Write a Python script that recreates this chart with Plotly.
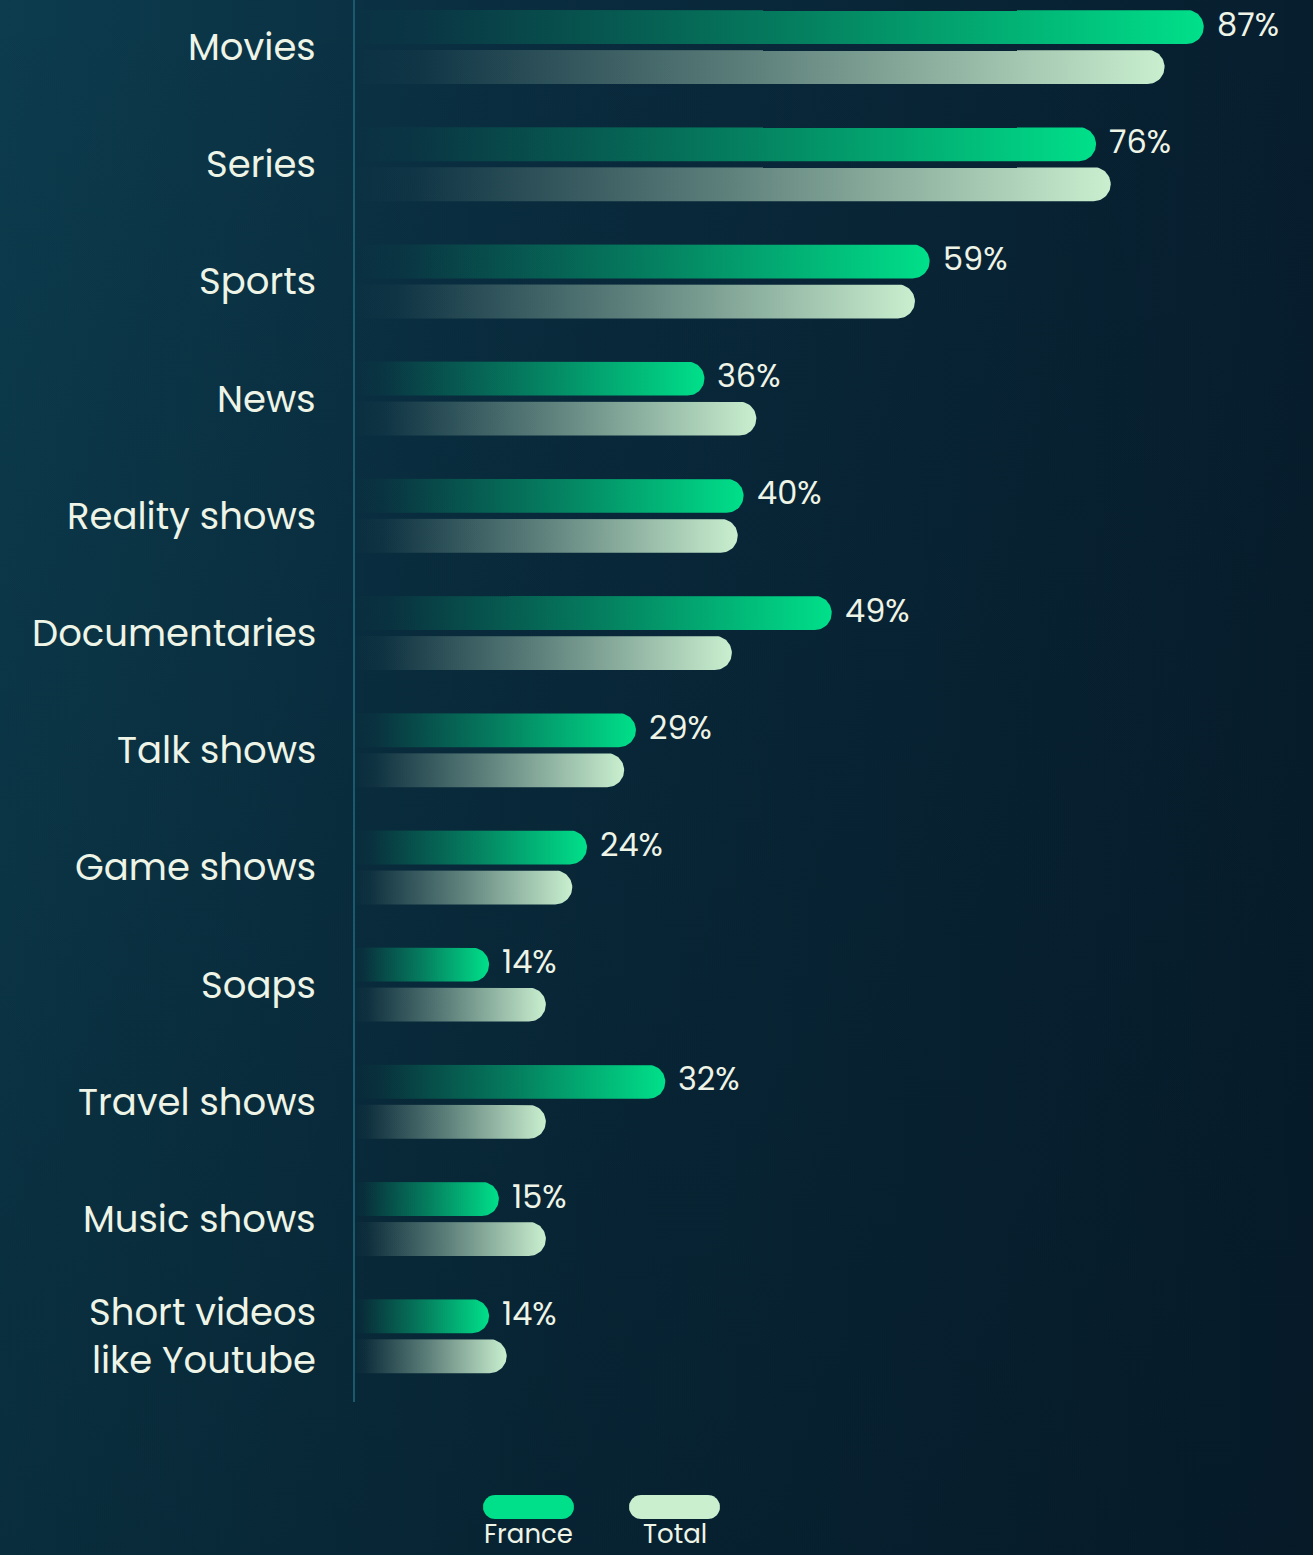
import numpy as np
import plotly.graph_objects as go

# ---------------- data ----------------
categories = ["Movies", "Series", "Sports", "News", "Reality shows", "Documentaries",
              "Talk shows", "Game shows", "Soaps", "Travel shows", "Music shows",
              "Short videos<br>like Youtube"]
france = [87, 76, 59, 36, 40, 49, 29, 24, 14, 32, 15, 14]
total = [83, 77.5, 57.5, 41.3, 39.4, 38.8, 27.8, 22.5, 19.8, 19.8, 19.8, 15.8]
series_names = ["France", "Total"]

# ---------------- style / geometry ----------------
W, H = 1313, 1555
X0, K = 352.0, 9.79      # pixel of 0 %, pixels per %
Y0, P = 47.0, 117.2      # pixel of first group centre, pixels per group
BAR_HALF = 17.0          # half bar height in px
BAR_OFF = 20.0           # offset of each bar from group centre in px
FONT = "Poppins, Inter, Lato, sans-serif"
TXT = "#eef4e6"
C_FR = (0, 224, 138)
C_TO = (201, 239, 207)

def px_x(px):
    return (px - X0) / K

def px_y(py):
    return (py - Y0) / P

xr = [px_x(0), px_x(W)]
yr = [px_y(H), px_y(0)]   # reversed axis

def rounded_bar(v, yc):
    rx, ry = BAR_HALF / K, BAR_HALF / P
    th = np.linspace(-np.pi / 2, np.pi / 2, 31)
    xs = [0.0] + list((v - rx) + rx * np.cos(th)) + [0.0]
    ys = [yc - ry] + list(yc + ry * np.sin(th)) + [yc + ry]
    return xs, ys

def pill(cx_px, cy_px, w_px, h_px):
    r = h_px / 2
    th1 = np.linspace(np.pi / 2, 3 * np.pi / 2, 21)
    th2 = np.linspace(-np.pi / 2, np.pi / 2, 21)
    lx, rx_ = cx_px - w_px / 2 + r, cx_px + w_px / 2 - r
    xs = list(lx + r * np.cos(th1)) + list(rx_ + r * np.cos(th2))
    ys = list(cy_px - r * np.sin(th1)) + list(cy_px - r * np.sin(th2))
    return [px_x(x) for x in xs], [px_y(y) for y in ys]

def rgba(c, a):
    return f"rgba({c[0]},{c[1]},{c[2]},{a})"

fig = go.Figure()

# background gradient (horizontal + vertical darkening)
bx = [xr[0], xr[1], xr[1], xr[0]]
by = [yr[1], yr[1], yr[0], yr[0]]
fig.add_trace(go.Scatter(
    x=bx, y=by, fill="toself", mode="lines", line=dict(width=0),
    fillgradient=dict(type="horizontal", start=xr[0], stop=xr[1],
                      colorscale=[[0, "#0c3c4e"], [0.45, "#092b3d"], [1, "#071e2e"]]),
    hoverinfo="skip", showlegend=False))
fig.add_trace(go.Scatter(
    x=bx, y=by, fill="toself", mode="lines", line=dict(width=0),
    fillgradient=dict(type="vertical", start=yr[1], stop=yr[0],
                      colorscale=[[0, "rgba(4,18,28,0)"], [1, "rgba(4,18,28,0.35)"]]),
    hoverinfo="skip", showlegend=False))

# bars
for i, cat in enumerate(categories):
    for vals, col, off, name in ((france, C_FR, -BAR_OFF, series_names[0]),
                                 (total, C_TO, BAR_OFF, series_names[1])):
        v = vals[i]
        yc = i + off / P
        xs, ys = rounded_bar(v, yc)
        fig.add_trace(go.Scatter(
            x=xs, y=ys, fill="toself", mode="lines", line=dict(width=0),
            fillgradient=dict(type="horizontal", start=0, stop=v,
                              colorscale=[[0, rgba(col, 0)], [0.08, rgba(col, 0.03)],
                                          [0.5, rgba(col, 0.45)], [1, rgba(col, 1)]]),
            hoverinfo="skip", showlegend=False, name=name))

annotations = []
# category labels
for i, cat in enumerate(categories):
    annotations.append(dict(
        x=px_x(318), y=i, xref="x", yref="y", text=cat, showarrow=False,
        xanchor="right", yanchor="middle", align="right",
        font=dict(family=FONT, size=37, color=TXT)))
# value labels
for i, v in enumerate(france):
    annotations.append(dict(
        x=v, y=i - BAR_OFF / P, xref="x", yref="y", text=f"{v}%", showarrow=False,
        xanchor="left", yanchor="middle", xshift=11, yshift=3,
        font=dict(family=FONT, size=32, color=TXT)))

# legend
for name, col, cx in ((series_names[0], C_FR, 528.5), (series_names[1], C_TO, 674.5)):
    xs, ys = pill(cx, 1507, 91, 24)
    fig.add_trace(go.Scatter(
        x=xs, y=ys, fill="toself", mode="lines", line=dict(width=0),
        fillcolor=rgba(col, 1), hoverinfo="skip", showlegend=False))
    annotations.append(dict(
        x=px_x(cx), y=px_y(1534), xref="x", yref="y", text=name, showarrow=False,
        xanchor="center", yanchor="middle",
        font=dict(family=FONT, size=26, color=TXT)))

shapes = [dict(type="line", xref="x", yref="y", x0=px_x(354), x1=px_x(354),
               y0=px_y(0), y1=px_y(1402), line=dict(color="#1b5a6d", width=2), layer="above")]

fig.update_layout(
    width=W, height=H, autosize=False,
    margin=dict(l=0, r=0, t=0, b=0, pad=0),
    paper_bgcolor="#08283a", plot_bgcolor="rgba(0,0,0,0)",
    xaxis=dict(range=xr, visible=False, fixedrange=True),
    yaxis=dict(range=yr, visible=False, fixedrange=True),
    annotations=annotations, shapes=shapes, showlegend=False,
)

fig.write_html("out.html", config={"displayModeBar": False})
